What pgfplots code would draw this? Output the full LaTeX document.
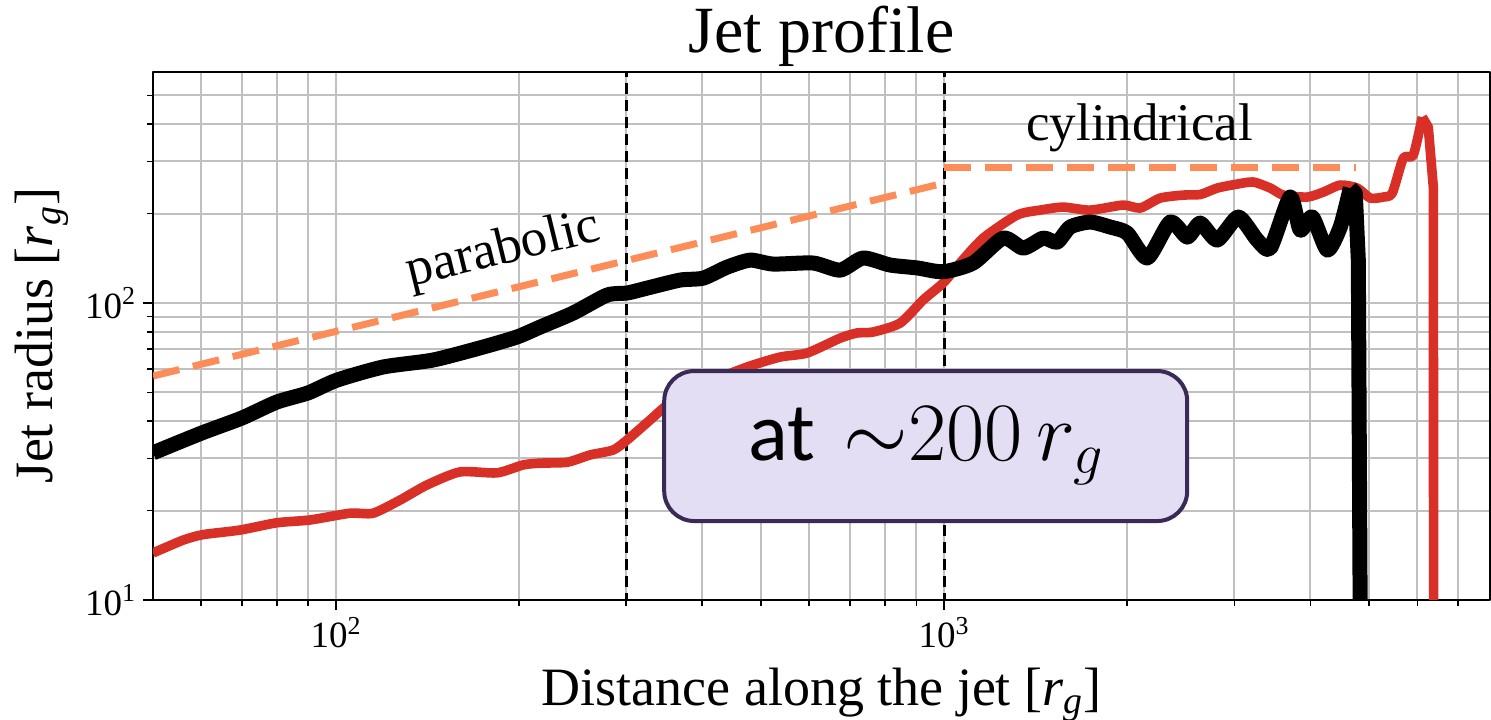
\RequirePackage{fix-cm}
\documentclass[border=0pt]{standalone}
\usepackage{fontspec}
\setmainfont{Liberation Serif}
\newfontfamily\carlito{Carlito}
\usepackage{pgfplots}
\pgfplotsset{compat=1.18}
\definecolor{jred}{RGB}{216,48,39}
\definecolor{jorange}{RGB}{252,141,89}
\definecolor{boxfill}{RGB}{228,222,244}
\definecolor{boxdraw}{RGB}{58,42,85}
\definecolor{gridgray}{RGB}{192,192,192}
\begin{document}
\begin{tikzpicture}
\begin{axis}[
  name=ax,
  xmode=log, ymode=log,
  scale only axis, width=668.5pt, height=264pt,
  xmin=50, xmax=7900, ymin=10, ymax=600,
  xtick={100,1000}, xticklabels={10\textsuperscript{2},10\textsuperscript{3}},
  ytick={10,100}, yticklabels={10\textsuperscript{1},10\textsuperscript{2}},
  minor xtick={60,70,80,90,200,300,400,500,600,700,800,900,2000,3000,4000,5000,6000,7000},
  minor ytick={20,30,40,50,60,70,80,90,200,300,400,500},
  grid=both,
  major grid style={gridgray, line width=1pt},
  minor grid style={gridgray, line width=1pt},
  tick align=outside,
  xtick pos=bottom, ytick pos=left,
  major tick length=5pt, minor tick length=3pt,
  every tick/.style={black, line width=0.8pt},
  axis line style={line width=1pt},
  ticklabel style={font=\fontsize{18.5}{21}\selectfont},
  title={Jet profile},
  title style={font=\fontsize{33}{36}\selectfont, at={(axis description cs:0.5,1.0133)}, anchor=base},
  xlabel={Distance along the jet [\textit{r}\textsubscript{\textit{g}}]},
  ylabel={Jet radius [\textit{r}\textsubscript{\textit{g}}]},
  label style={font=\fontsize{27}{30}\selectfont},
  xlabel style={at={(axis description cs:0.5,-0.1989)}, anchor=base},
  ylabel style={at={(axis description cs:-0.0755,0.5)}, anchor=base},
  clip mode=individual,
  line join=round,
]
\addplot[black, line width=1.5pt, dash pattern=on 5.5pt off 3pt] coordinates {(300,5) (300,1000)};
\addplot[black, line width=1.5pt, dash pattern=on 5.5pt off 3pt] coordinates {(1000,5) (1000,1000)};
\addplot[jorange, line width=3.5pt, dash pattern=on 13.5pt off 7pt] coordinates {(50,56.8) (1000,253.6)};
\addplot[jorange, line width=3.5pt, dash pattern=on 13.5pt off 7pt] coordinates {(1000,287) (4750,287)};
\addplot[jred, line width=4.8pt, smooth, tension=0.4] table {
50 14.4
56.0 15.9
60.4 16.6
69.5 17.2
79.9 18.2
90.6 18.6
105.4 19.6
115.0 19.6
127.4 21.7
141.1 24.4
159.9 27.0
183.9 26.8
203.0 28.5
216.5 28.9
239.9 29.1
261.7 30.8
285.5 32.0
301.1 34.6
328.5 40.4
354.2 46.1
407.5 53.8
474.2 60.9
537.3 65.8
595.3 67.9
674.5 76.2
719.2 79.3
764.1 79.9
846.3 85.6
923.4 102.4
996 116.8
1062 136.4
1159 165.5
1318 197.9
1438 205.6
1569 210.4
1738 205.6
1970 213.8
2101 208.9
2266 225.7
2472 231.0
2636 232
2812 243.9
3034 251.6
3223 255.6
3438 243.9
3610 231.0
3954 227.5
4201 236.4
4480 249.7
4778 243.9
5018 225.7
5272 227.5
5455 234.6
5689 307.8
5907 315.0
6111 423.0
};
\addplot[jred, line width=4.8pt] table {
6111 423.0
6252 391.3
6373 245.8
6385 1
};
\addplot[black, line width=7.5pt, smooth, tension=0.4] table {
50 31.3
60.1 36.5
70.0 41.0
79.9 46.4
89.9 49.8
100.3 55.0
119.5 60.9
144.4 64.3
174.5 71.1
198.5 76.9
216.5 83.0
245.3 92.5
279.1 106.4
301.1 108.1
324.8 112.3
367.9 119.5
401.4 121.3
439.5 132.1
479.7 139.5
523.2 135.3
608.9 136.4
674.5 129.1
735.8 141.8
814.7 134.3
902.8 131.3
995.9 127.5
1116 136.4
1250 165.5
1349 153.1
1455 165.5
1534 160.4
1611 180.3
1738 187.4
1875 180.3
2000 172.1
2158 141.8
2353 187.4
2510 166.8
2636 185.9
2812 163.0
3045 194.9
3272 163.0
3438 153.1
3707 227.5
3850 176.1
4030 194.9
4266 150.8
4480 180.3
4654 243.9
};
\addplot[black, line width=7.5pt] table {
4654 243.9
4742 234.6
4797 139.5
4830 10
4840 1
};
\node[anchor=base, rotate=13.7, font=\fontsize{26.5}{30}\selectfont] at (axis cs:190.6,136) {parabolic};
\node[anchor=base, font=\fontsize{26.5}{30}\selectfont] at (axis cs:2097,353.9) {cylindrical};
\node[draw=boxdraw, line width=2pt, fill=boxfill, rounded corners=15pt, minimum width=261.5pt, minimum height=75pt, inner sep=0pt] at (axis cs:932.4,33.0) {\fontsize{41.5}{45}\selectfont\carlito at\hspace{0.35em}$\mathord{\sim}200\,r_g$};
\end{axis}
\pgfresetboundingbox
\path ([xshift=-76.5pt,yshift=-60pt]ax.south west) rectangle ([xshift=0.5pt,yshift=36pt]ax.north east);
\end{tikzpicture}
\end{document}
